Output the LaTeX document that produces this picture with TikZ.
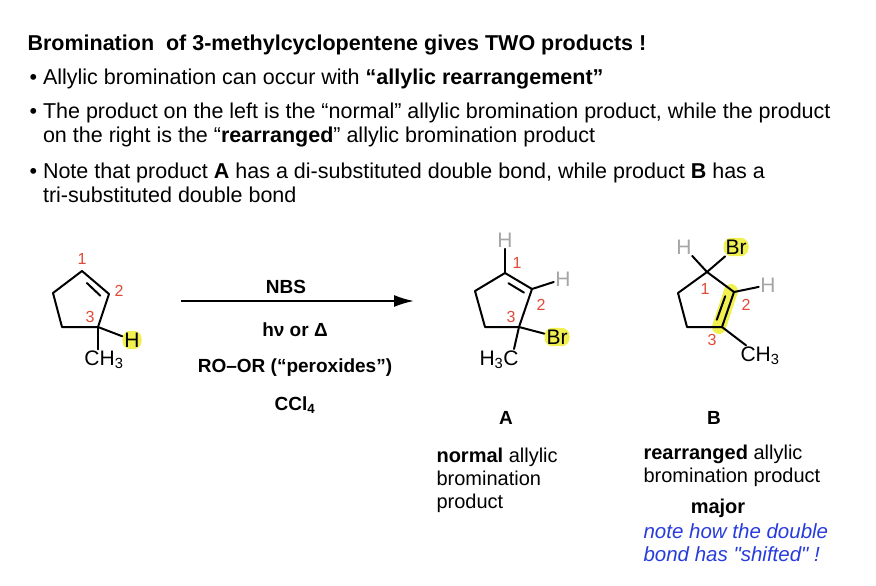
\documentclass[tikz,border=0pt]{standalone}
\usepackage{fontspec}
\setmainfont{Liberation Sans}
\newfontfamily\notefont{Liberation Sans}
\usetikzlibrary{positioning,calc,arrows.meta}
\definecolor{numred}{RGB}{226,72,52}
\definecolor{hlyellow}{RGB}{240,240,80}
\definecolor{notblue}{RGB}{40,60,220}
\tikzset{
	bond/.style={line width=2pt, line join=round, line cap=round, shorten >=0pt},
	num/.style={text=numred, font=\fontsize{16}{16}\selectfont, inner sep=0pt},
	atom/.style={font=\fontsize{21}{21}\selectfont, inner sep=1.5pt},
	hatom/.style={atom, text=gray!70},
	hl/.style={fill=hlyellow, rounded corners=8pt, inner sep=2pt},
	body/.style={font=\fontsize{21.5}{24}\selectfont, anchor=west, align=left},
	cond/.style={font=\bfseries\fontsize{19}{19}\selectfont},
}
\newcommand{\bul}{•\ }
\begin{document}
\begin{tikzpicture}[x=1pt, y=-1pt]
			\useasboundingbox (0,0) rectangle (876,586);
			% text
			\node[body, font=\bfseries\fontsize{21.5}{24}\selectfont] (title) at (24,45) {Bromination\ \ of 3-methylcyclopentene gives TWO products !};
			\node[body] (b1) at (26,79) {\bul Allylic bromination can occur with \textbf{“allylic rearrangement”}};
			\node[body] (b2) at (26,125) {\bul The product on the left is the “normal” allylic bromination product, while the product\\\phantom{\bul}on the right is the “\textbf{rearranged}” allylic bromination product};
			\node[body] (b3) at (26,183) {\bul Note that product \textbf{A} has a di-substituted double bond, while product \textbf{B} has a\\\phantom{\bul}tri-substituted double bond};
			
			% starting material
			\coordinate (s1) at (82,271); \coordinate (s2) at (109,294); \coordinate (s3) at (98,327);
			\coordinate (s4) at (62,327); \coordinate (s5) at (53,293);
			\node[atom, hl] (sh) at (132,340) {H};
			\node[atom] (sme) at (104,360) {CH\textsubscript{3}};
			\draw[bond] (s1) -- (s2) -- (s3) -- (s4) -- (s5) -- cycle;
			\draw[bond] ($(s1)!0.22!(s2)+(-1,7)$) -- ($(s1)!0.9!(s2)+(-6,4)$);
			\draw[bond] (s3) -- (sh); \draw[bond] (s3) -- (sme.north -| s3);
			\node[num] at (82,259) {1}; \node[num] at (119,291) {2}; \node[num] at (90,317) {3};
			
			% arrow and conditions
			\node[cond] (nbs) at (286,287) {NBS};
			\node[cond] (hv) at (295,330) {hν or Δ};
			\node[cond] (roor) at (295,368) {RO–OR (“peroxides”)};
			\node[cond] (ccl) at (295,405) {CCl\textsubscript{4}};
			\coordinate (arrs) at (181,301); \coordinate (arre) at (414,301);
			\draw[line width=2pt, -{Latex[length=20pt,width=12pt]}] (arrs) -- (arre);
			
			% product A
			\coordinate (a1) at (505,273); \coordinate (a2) at (532,289); \coordinate (a3) at (519,327);
			\coordinate (a4) at (485,327); \coordinate (a5) at (475,291);
			\node[hatom] (ah1) at (505,240) {H};
			\node[hatom] (ah2) at (563,279) {H};
			\node[atom, hl] (abr) at (557,337) {Br};
			\node[atom] (ame) at (499,360) {H\textsubscript{3}C};
			\draw[bond] (a1) -- (a2) -- (a3) -- (a4) -- (a5) -- cycle;
			\draw[bond] ($(a1)!0.2!(a2)+(-2,7)$) -- ($(a1)!0.85!(a2)+(-4,6)$);
			\draw[bond] (a1) -- (ah1); \draw[bond] (a2) -- (ah2); \draw[bond] (a3) -- (abr); \draw[bond] (a3) -- (514,349);
			\node[num] at (517,263) {1}; \node[num] at (541,305) {2}; \node[num] at (511,317) {3};
			
			% product B
			\coordinate (p1) at (707,272); \coordinate (p2) at (734,292); \coordinate (p3) at (722,327);
			\coordinate (p4) at (687,327); \coordinate (p5) at (678,293);
			\draw[line width=14pt, hlyellow, line cap=round] ($(p2)+(-3,-1)$) -- ($(p3)+(-3,0)$);
			\node[hatom] (bh1) at (684,247) {H};
			\node[atom, hl] (bbr) at (736,247) {Br};
			\node[hatom] (bh2) at (768,285) {H};
			\node[atom] (bme) at (760,356) {CH\textsubscript{3}};
			\draw[bond] (p1) -- (p2) -- (p3) -- (p4) -- (p5) -- cycle;
			\draw[bond] ($(p2)!0.15!(p3)+(-7,-1)$) -- ($(p2)!0.85!(p3)+(-7,-2)$);
			\draw[bond] (p1) -- (bh1); \draw[bond] (p1) -- (bbr); \draw[bond] (p2) -- (bh2); \draw[bond] (p3) -- (bme);
			\node[num] at (705,289) {1}; \node[num] at (746,305) {2}; \node[num] at (712,340) {3};
			
			% captions
			\node[cond] (la) at (506,418) {A};
			\node[cond] (lb) at (714,418) {B};
			\node[body, anchor=north west, font=\fontsize{20}{23}\selectfont] (ta) at (433,444) {\textbf{normal} allylic\\bromination\\product};
			\node[body, anchor=north west, font=\fontsize{20}{23}\selectfont] (tb) at (640,441) {\textbf{rearranged} allylic\\bromination product};
			\node[font=\bfseries\fontsize{20}{20}\selectfont] (major) at (718,508) {major};
			\node[body, anchor=north west, text=notblue, font=\notefont\itshape\fontsize{20.5}{23}\selectfont] (note) at (640,520) {note how the double\\bond has "shifted" !};
		\end{tikzpicture}
\end{document}
